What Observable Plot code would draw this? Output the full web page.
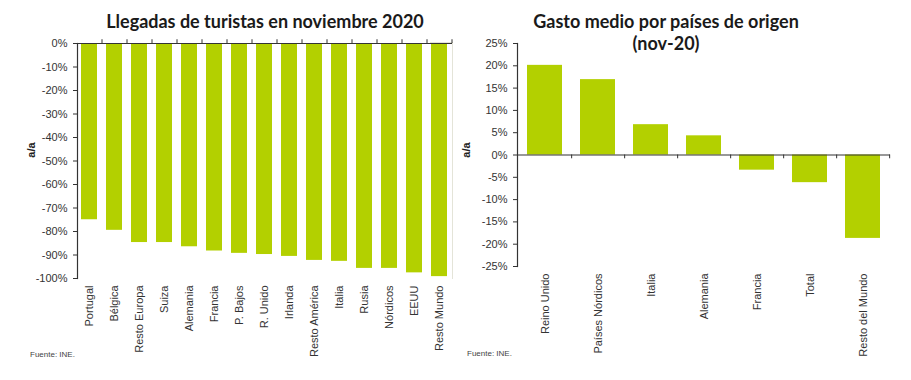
<!DOCTYPE html>
<html>
<head>
<meta charset="utf-8">
<script src="https://cdn.jsdelivr.net/npm/d3@7"></script>
<script src="https://cdn.jsdelivr.net/npm/@observablehq/plot@0.6"></script>
<style>
  html, body { margin: 0; padding: 0; background: #fff; }
  #wrap { position: relative; width: 911px; height: 380px; overflow: hidden; font-family: "Liberation Sans", Arial, sans-serif; }
  .chart { position: absolute; top: 0; }
  .title { position: absolute; font-family: Lato, "Liberation Sans", sans-serif; font-weight: bold; font-size: 18px; color: #1a1a1a; text-align: center; line-height: 22px; white-space: nowrap; transform: translateX(-50%); }
  .ylab { position: absolute; font-weight: bold; font-size: 11px; color: #222; transform: translate(-50%, -50%) rotate(-90deg); white-space: nowrap; }
  .src { position: absolute; font-size: 8px; color: #444; white-space: nowrap; }
  .border { position: absolute; border-top: 1px solid #e4e4d8; border-right: 1px solid #e4e4d8; }
</style>
</head>
<body>
<div id="wrap">
  <div class="border" style="left:430px; top:42px; width:22px; height:236px;"></div>
  <div id="left" class="chart" style="left:0px;"></div>
  <div id="right" class="chart" style="left:450px;"></div>
  <div class="title" style="left:265px; top:10px;">Llegadas de turistas en noviembre 2020</div>
  <div class="title" style="left:666px; top:10px;">Gasto medio por países de origen<br>(nov-20)</div>
  <div class="ylab" style="left:31px; top:150px;">a/a</div>
  <div class="ylab" style="left:466px; top:150px;">a/a</div>
  <div class="src" style="left:30px; top:350px;">Fuente: INE.</div>
  <div class="src" style="left:467px; top:349px;">Fuente: INE.</div>
</div>
<script>
// ---- Data: left chart (arrivals, y/y %) ----
const arrivalCountries = ["Portugal", "Bélgica", "Resto Europa", "Suiza", "Alemania", "Francia", "P. Bajos", "R. Unido", "Irlanda", "Resto América", "Italia", "Rusia", "Nórdicos", "EEUU", "Resto Mundo"];
const arrivalValues = [-75, -79.5, -84.7, -84.7, -86.5, -88.3, -89.3, -89.8, -90.6, -92.3, -92.7, -95.7, -95.7, -97.6, -99.2];
const arrivalTicks = [0, -10, -20, -30, -40, -50, -60, -70, -80, -90, -100];

// ---- Data: right chart (average spending, y/y %) ----
const spendCountries = ["Reino Unido", "Países Nórdicos", "Italia", "Alemania", "Francia", "Total", "Resto del Mundo"];
const spendValues = [20.1, 16.9, 6.8, 4.3, -3.4, -6.2, -18.7];
const spendTicks = [25, 20, 15, 10, 5, 0, -5, -10, -15, -20, -25];

const GREEN = "#b3d000";
const AXIS = "#333";
const pct = d => `${d}%`;

const arrivals = arrivalCountries.map((name, i) => ({name, value: arrivalValues[i]}));
const spend = spendCountries.map((name, i) => ({name, value: spendValues[i]}));

function makeChart({data, categories, ticks, domain, width, height, ml, mr, mt, mb, tickDir}) {
  const step = (width - ml - mr) / categories.length;
  return Plot.plot({
    width, height,
    marginLeft: ml, marginRight: mr, marginTop: mt, marginBottom: mb,
    style: {fontFamily: "'Liberation Sans', Arial, sans-serif", fontSize: "11px", color: "#333", background: "transparent", overflow: "visible"},
    x: {domain: categories, paddingInner: 0.34, paddingOuter: 0.17, label: null},
    y: {domain, label: null},
    marks: [
      Plot.barY(data, {x: "name", y: "value", fill: GREEN}),
      Plot.ruleY([0], {stroke: AXIS, strokeWidth: 1.2}),
      Plot.ruleX(categories, {x: d => d, y1: 0, y2: tickDir, dx: step / 2, stroke: AXIS}),
      Plot.axisY({ticks, tickFormat: pct, tickSize: 4, tickPadding: 6, stroke: AXIS}),
      Plot.axisX({tickRotate: -90, tickSize: 0, tickPadding: 7, anchor: "bottom"}),
      Plot.frame({anchor: "left", stroke: AXIS, strokeWidth: 1.2})
    ]
  });
}

document.getElementById("left").append(makeChart({
  data: arrivals, categories: arrivalCountries, ticks: arrivalTicks, domain: [-100, 0],
  width: 460, height: 380, ml: 77, mr: 8, mt: 43, mb: 102, tickDir: 1.6
}));

document.getElementById("right").append(makeChart({
  data: spend, categories: spendCountries, ticks: spendTicks, domain: [-25, 25],
  width: 461, height: 380, ml: 67, mr: 21, mt: 43, mb: 114, tickDir: -0.85
}));
</script>
</body>
</html>
